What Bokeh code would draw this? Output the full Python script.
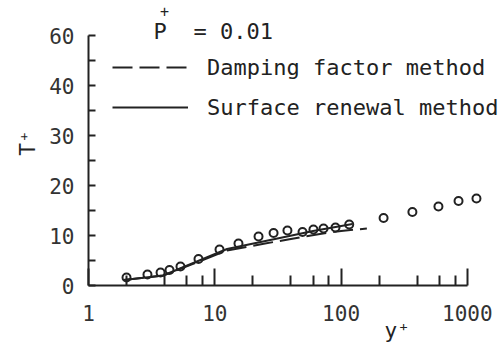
from bokeh.plotting import figure
from bokeh.models import (Range1d, FixedTicker, PrintfTickFormatter, Label,
                          Legend, LegendItem)
from bokeh.embed import file_html
from bokeh.resources import INLINE

# Measured temperature profile (open circles)
y_plus_data = [2.0, 2.93, 3.72, 4.38, 5.35, 7.43, 10.9, 15.4, 22.2, 29.2, 37.6,
               49.5, 60.4, 72.6, 90.3, 116, 217, 367, 590, 851, 1180]
t_plus_data = [1.6, 2.2, 2.6, 3.1, 3.8, 5.3, 7.2, 8.4, 9.8, 10.5, 11.0,
               10.7, 11.2, 11.4, 11.6, 12.2, 13.5, 14.7, 15.8, 16.9, 17.4]

# Damping factor method (dashed)
y_plus_damp = [1.9, 3.9, 12.5, 25, 38, 68, 100, 160]
t_plus_damp = [1.1, 2.0, 7.0, 8.4, 9.2, 10.3, 10.9, 11.4]

# Surface renewal method (solid)
y_plus_sr = [1.9, 3.9, 12.5, 30, 60, 123]
t_plus_sr = [1.1, 2.0, 7.3, 9.3, 10.9, 12.3]

x_tick_values = [1, 10, 100, 1000]
x_minor_ticks = [2, 4, 6, 8, 20, 40, 60, 80, 200, 400, 600, 800]
y_tick_values = [0, 10, 20, 30, 40, 50]
y_tick_labels = ["0", "10", "20", "30", "40", "60"]
y_minor_ticks = [5, 15, 25, 35, 45]

INK = "#222222"
MONO = "DejaVu Sans Mono"
NBSP = "\u00a0"

p = figure(width=503, height=350, x_axis_type="log",
           x_range=Range1d(1, 1932), y_range=Range1d(0, 57),
           output_backend="svg", toolbar_location=None,
           min_border_left=88, min_border_right=0,
           min_border_top=0, min_border_bottom=65)
p.outline_line_color = None
p.grid.visible = False
p.background_fill_color = "white"
p.border_fill_color = "white"

xa = p.xaxis[0]
xa.ticker = FixedTicker(ticks=x_tick_values, minor_ticks=x_minor_ticks)
xa.formatter = PrintfTickFormatter(format="%d")
xa.bounds = (1, 1000)
xa.major_tick_in = 17
xa.major_tick_out = 0
xa.minor_tick_in = 10
xa.minor_tick_out = 0
xa.major_label_standoff = 19
# axis title sits to the right, under the 100-1000 decade
xa.axis_label = NBSP * 16 + "y\u207a"
xa.axis_label_standoff = -5

ya = p.yaxis[0]
ya.ticker = FixedTicker(ticks=y_tick_values, minor_ticks=y_minor_ticks)
ya.major_label_overrides = {v: s for v, s in zip(y_tick_values, y_tick_labels)}
ya.bounds = (0, 50)
ya.major_tick_in = 7
ya.major_tick_out = 0
ya.minor_tick_in = 7
ya.minor_tick_out = 0
ya.major_label_standoff = 14
ya.axis_label = "T\u207a"
ya.axis_label_standoff = 6

for ax in (xa, ya):
    ax.axis_line_color = INK
    ax.axis_line_width = 2
    ax.major_tick_line_color = INK
    ax.major_tick_line_width = 2
    ax.minor_tick_line_color = INK
    ax.minor_tick_line_width = 2
    ax.major_label_text_font = MONO
    ax.major_label_text_font_size = "21px"
    ax.major_label_text_color = "#333333"
    ax.axis_label_text_font = MONO
    ax.axis_label_text_font_size = "21px"
    ax.axis_label_text_font_style = "normal"
    ax.axis_label_text_color = INK

r_damp = p.line(y_plus_damp, t_plus_damp, line_color=INK, line_width=2,
                line_dash="20 7")
r_sr = p.line(y_plus_sr, t_plus_sr, line_color=INK, line_width=2)
p.scatter(y_plus_data, t_plus_data, marker="circle", size=8,
          fill_color=None, line_color=INK, line_width=2)

legend = Legend(items=[LegendItem(label="Damping factor method", renderers=[r_damp]),
                       LegendItem(label="Surface renewal method", renderers=[r_sr])],
                location=(24, 158), orientation="vertical",
                glyph_width=76, glyph_height=40, label_height=40,
                label_standoff=19, spacing=0, padding=0, margin=0,
                border_line_color=None, background_fill_alpha=0,
                label_text_font=MONO, label_text_font_size="22px",
                label_text_color=INK)
p.add_layout(legend)


def txt(x, y, s, size, **kw):
    p.add_layout(Label(x=x, y=y, text=s, text_font=MONO,
                       text_font_size=size, text_color=INK, **kw))


# Parameter annotation P+ = 0.01
txt(3.27, 50.8, "P", "22px", text_align="left", text_baseline="middle")
txt(4.0, 55.0, "+", "15px", text_align="center", text_baseline="middle")
txt(6.78, 50.8, "= 0.01", "22px", text_align="left", text_baseline="middle")

open("out.html", "w").write(file_html(p, INLINE))
